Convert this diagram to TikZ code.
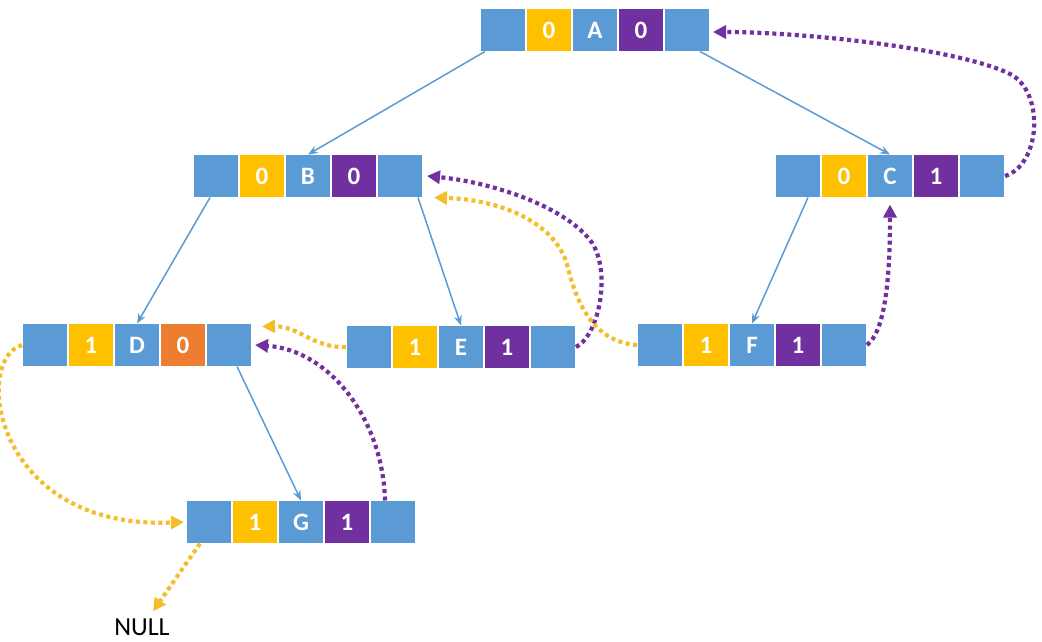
\documentclass[tikz,border=0pt]{standalone}
\usepackage{fontspec}
\setmainfont{Carlito}
\usetikzlibrary{positioning,arrows.meta,calc}

\definecolor{cellblue}{HTML}{5B9BD5}
\definecolor{tagyellow}{HTML}{FFC000}
\definecolor{tagpurple}{HTML}{7030A0}
\definecolor{tagorange}{HTML}{ED7D31}
\definecolor{threadyellow}{HTML}{F4BE2A}

\begin{document}
\begin{tikzpicture}[x=1pt, y=-1pt, >=Stealth, every node/.style={font=\bfseries\fontsize{25}{25}\selectfont}]
  % Styles
  \tikzset{
    cell/.style={draw=white, line width=1.5pt, minimum width=46pt, minimum height=43pt, inner sep=0pt, outer sep=0pt, text=white},
    ptr/.style={cell, fill=cellblue},
    ltag/.style={cell, fill=tagyellow},
    info/.style={cell, fill=cellblue},
    rtag/.style={cell, fill=tagpurple},
    rtagd/.style={cell, fill=tagorange},
    child/.style={-{Stealth[length=10pt,width=8pt]}, cellblue, line width=1.5pt},
    thread/.style={-{Triangle[length=13pt,width=13pt]}, line width=4.2pt, dash pattern=on 4pt off 3.5pt},
    ythread/.style={thread, threadyellow},
    pthread/.style={thread, tagpurple}
  }

  \useasboundingbox (0,0) rectangle (1042,642);

  % Nodes: pointer | ltag | data | rtag | pointer
  \foreach \nm/\px/\py/\ltg/\rtg/\rs in {A/503/30/0/0/rtag, B/216/176/0/0/rtag, C/798/176/0/1/rtag,
      D/45/345/1/0/rtagd, E/369/347/1/1/rtag, F/660/345/1/1/rtag, G/209/522/1/1/rtag}{
    \node[ptr] (\nm-1) at (\px,\py) {};
    \node[ltag, right=0pt of \nm-1] (\nm-2) {\ltg};
    \node[info, right=0pt of \nm-2] (\nm-3) {\nm};
    \node[\rs, right=0pt of \nm-3] (\nm-4) {\rtg};
    \node[ptr, right=0pt of \nm-4] (\nm-5) {};
  }

  \node[font=\fontsize{26}{26}\selectfont, text=black, inner sep=1pt] (null) at (142,627) {NULL};

  % Child links
  \draw[child] ($(A-1.south)+(-18,0)$) -- (B-3.north);
  \draw[child] ($(A-5.south)+(13,0)$) -- (C-3.north);
  \draw[child] ($(B-1.south)+(-6,0)$) -- (D-3.north);
  \draw[child] ($(B-5.south)+(18,0)$) -- (E-3.north);
  \draw[child] ($(C-1.south)+(10,0)$) -- (F-3.north);
  \draw[child] ($(D-5.south)+(8,0)$) -- (G-3.north);

  % Threads: successor (purple)
  \draw[pthread] (C-5.east) .. controls (1040,165) and (1045,95) .. (1012,75)
      .. controls (960,48) and (800,32) .. ($(A-5.east)+(3,2)$);
  \draw[pthread] (E-5.east) .. controls (600,335) and (612,268) .. (590,240)
      .. controls (562,205) and (490,182) .. ($(B-5.east)+(4,0)$);
  \draw[pthread] (F-5.east) .. controls (884,332) and (890,285) .. ($(C-3.south)+(0,7)$);
  \draw[pthread] ($(G-5.north)+(-8,0)$) .. controls (383,420) and (330,350) .. ($(D-5.east)+(3,0)$);

  % Threads: predecessor (yellow)
  \draw[ythread] (E-1.west) .. controls (312,348) and (300,326) .. ($(D-5.north east)+(10,3)$);
  \draw[ythread] (F-1.west) .. controls (592,342) and (576,300) .. (568,268)
      .. controls (558,225) and (505,200) .. ($(B-5.south east)+(11,0)$);
  \draw[ythread] (D-1.west) .. controls (-28,360) and (-6,530) .. ($(G-1.west)+(-2,0)$);
  \draw[ythread] ($(G-1.south)+(-9,0)$) -- ($(null.north)+(11,-6)$);
\end{tikzpicture}
\end{document}
